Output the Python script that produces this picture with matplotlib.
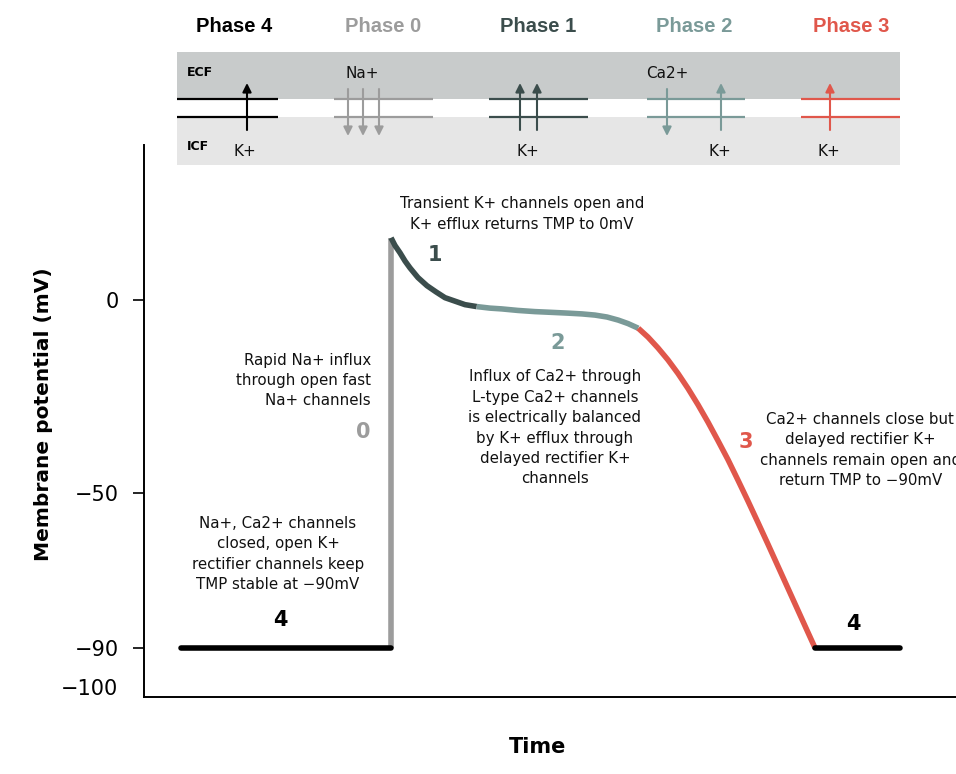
import numpy as np
import matplotlib
matplotlib.use('Agg')
import matplotlib.pyplot as plt
from matplotlib.patches import Rectangle

# ---------------- data ----------------
# time in arbitrary units (axis spans 0..100), voltage in mV
phase4a_t = [4.6, 30.4]
phase4a_v = [-90, -90]
phase0_t = [30.4, 30.4]
phase0_v = [-90, 16.1]
phase1_t = [30.42, 30.91, 31.53, 32.14, 32.76, 33.74, 34.85, 35.96, 37.07, 38.30, 39.53, 40.97]
phase1_v = [16.1, 14.1, 12.2, 10.1, 8.3, 5.8, 3.7, 2.1, 0.6, -0.3, -1.2, -1.7]
phase2_t = [40.97, 42.61, 44.05, 46.06, 48.15, 50.25, 52.25, 53.94, 55.54, 57.02, 58.41, 59.61, 60.87]
phase2_v = [-1.7, -2.1, -2.3, -2.7, -3.0, -3.2, -3.4, -3.6, -3.9, -4.4, -5.2, -6.1, -7.3]
phase3_t = [60.87, 62.07, 63.30, 64.53, 65.76, 67.00, 68.23, 69.46, 70.69, 71.92,
            73.15, 74.38, 75.62, 76.85, 78.08, 79.31, 80.54, 81.77, 82.64]
phase3_v = [-7.3, -9.6, -12.4, -15.5, -19.0, -22.9, -27.1, -31.6, -36.4, -41.3,
            -46.6, -52.0, -57.6, -63.2, -68.9, -74.6, -80.3, -86.0, -90.0]
phase4b_t = [82.64, 93.1]
phase4b_v = [-90, -90]

ytick_vals = [0, -50, -90]
ytick_labels = ['0', '\u221250', '\u221290']
extra_tick_val = -100
extra_tick_label = '\u2212100'

phase_names = ['Phase 4', 'Phase 0', 'Phase 1', 'Phase 2', 'Phase 3']
phase_numbers = ['4', '0', '1', '2', '3']
c_p4 = '#000000'
c_p0 = '#9c9c9c'
c_p1 = '#3b4d4c'
c_p2 = '#7a9a98'
c_p3 = '#e0574b'
phase_colors = [c_p4, c_p0, c_p1, c_p2, c_p3]

# membrane diagram (diagram units)
phase_title_x = [234, 383, 538, 694, 851]
channel_x0 = [177, 334, 489, 647, 801]
channel_x1 = [278, 433, 588, 745, 900]
arrow_x = [[247], [348, 363, 379], [520, 537], [667, 721], [830]]
arrow_dir = [[1], [-1, -1, -1], [1, 1], [-1, 1], [1]]
ion_labels = ['K+', 'Na+', 'K+', 'Ca2+', 'K+', 'K+']
ion_x = [245, 362, 528, 667, 720, 829]
ion_side = ['ICF', 'ECF', 'ICF', 'ECF', 'ICF', 'ICF']

ann_phase1 = 'Transient K+ channels open and\nK+ efflux returns TMP to 0mV'
ann_phase0 = 'Rapid Na+ influx\nthrough open fast\nNa+ channels'
ann_phase2 = ('Influx of Ca2+ through\nL-type Ca2+ channels\nis electrically balanced\n'
              'by K+ efflux through\ndelayed rectifier K+\nchannels')
ann_phase4 = 'Na+, Ca2+ channels\nclosed, open K+\nrectifier channels keep\nTMP stable at \u221290mV'
ann_phase3 = ('Ca2+ channels close but\ndelayed rectifier K+\nchannels remain open and\n'
              'return TMP to \u221290mV')

# ---------------- figure ----------------
W, H = 956, 774
fig = plt.figure(figsize=(W / 100, H / 100), dpi=100)
fig.patch.set_facecolor('white')

ax = fig.add_axes([144 / W, 1 - 697 / H, 1 - 144 / W, (697 - 145) / H])
ax.set_xlim(0, 100)
ax.set_ylim(-102.7, 40.1)
for s in ['top', 'right']:
    ax.spines[s].set_visible(False)
for s in ['left', 'bottom']:
    ax.spines[s].set_linewidth(1.4)
ax.set_xticks([])
ax.set_yticks(ytick_vals)
ax.set_yticklabels(ytick_labels)
ax.set_yticks([extra_tick_val], minor=True)
ax.set_yticklabels([extra_tick_label], minor=True)
ax.tick_params(axis='y', which='major', length=8, width=1.2, pad=10,
               labelsize=15)
ax.tick_params(axis='y', which='minor', length=0, pad=18.5, labelsize=15)

ax.set_ylabel('Membrane potential (mV)', fontsize=14.5, fontweight='bold')
ax.yaxis.set_label_coords(-0.112, (697 - 414) / 552)
ax.set_xlabel('Time', fontsize=15, fontweight='bold')
ax.xaxis.set_label_coords(48.5 / 100, -0.072)

lw = 4.0
line_kw = dict(lw=lw, solid_joinstyle='round')
ax.plot(phase0_t, phase0_v, color=c_p0, solid_capstyle='butt', zorder=3, **line_kw)
ax.plot(phase4a_t, phase4a_v, color=c_p4, solid_capstyle='round', zorder=4, **line_kw)
ax.plot(phase1_t, phase1_v, color=c_p1, solid_capstyle='butt', zorder=4, **line_kw)
ax.plot(phase2_t, phase2_v, color=c_p2, solid_capstyle='butt', zorder=4, **line_kw)
ax.plot(phase3_t, phase3_v, color=c_p3, solid_capstyle='butt', zorder=4, **line_kw)
ax.plot(phase4b_t, phase4b_v, color=c_p4, solid_capstyle='round', zorder=4, **line_kw)

body = dict(fontsize=10.8, color='#111111', linespacing=1.45, clip_on=False)
num = dict(fontsize=15, fontweight='bold', ha='center', va='center')

ax.text(46.55, 22.2, ann_phase1, ha='center', va='center', **body)
ax.text(35.8, 11.6, phase_numbers[2], color=c_p1, **num)
ax.text(50.6, -33.1, ann_phase2, ha='center', va='center', **body)
ax.text(50.9, -11.1, phase_numbers[3], color=c_p2, **num)
ax.text(27.96, -20.8, ann_phase0, ha='right', va='center', **body)
ax.text(26.97, -34.1, phase_numbers[1], color=c_p0, **num)
ax.text(16.5, -65.7, ann_phase4, ha='center', va='center', **body)
ax.text(16.8, -82.8, phase_numbers[0], color=c_p4, **num)
ax.text(87.4, -83.8, phase_numbers[0], color=c_p4, **num)
ax.text(88.2, -38.8, ann_phase3, ha='center', va='center', **body)
ax.text(74.1, -36.7, phase_numbers[4], color=c_p3, **num)

# ---------------- membrane diagram ----------------
axt = fig.add_axes([0, 1 - 165 / H, 1, 165 / H])
axt.set_xlim(0, W)
axt.set_ylim(165, 0)
axt.axis('off')
axt.patch.set_alpha(0)

ecf_top, mem_top, mem_bot, icf_bot = 51.5, 99, 117, 165
axt.add_patch(Rectangle((177, ecf_top), 900 - 177, mem_top - ecf_top,
                        facecolor='#c8cbcb', edgecolor='none'))
axt.add_patch(Rectangle((177, mem_bot), 900 - 177, icf_bot - mem_bot,
                        facecolor='#e6e6e6', edgecolor='none'))

axt.text(187, 72, 'ECF', fontsize=9, fontweight='bold', ha='left', va='center')
axt.text(187, 147, 'ICF', fontsize=9, fontweight='bold', ha='left', va='center')

for i, name in enumerate(phase_names):
    c = phase_colors[i]
    axt.text(phase_title_x[i], 27, name, fontsize=14.5, fontweight='bold',
             family='Liberation Sans', color=c, ha='center', va='center')
    for y in (mem_top, mem_bot):
        axt.plot([channel_x0[i], channel_x1[i]], [y, y], color=c, lw=1.6,
                 solid_capstyle='butt')
    for x, d in zip(arrow_x[i], arrow_dir[i]):
        if d > 0:
            tail, tip = 130, 83
        else:
            tail, tip = 89, 136
        axt.annotate('', xy=(x, tip), xytext=(x, tail),
                     arrowprops=dict(arrowstyle='-|>', color=c, lw=1.5,
                                     mutation_scale=13, shrinkA=0, shrinkB=0))

for lab, x, side in zip(ion_labels, ion_x, ion_side):
    y = 74 if side == 'ECF' else 152
    axt.text(x, y, lab, fontsize=11, ha='center', va='center', color='#111111')

fig.savefig('out.png', dpi=100)
